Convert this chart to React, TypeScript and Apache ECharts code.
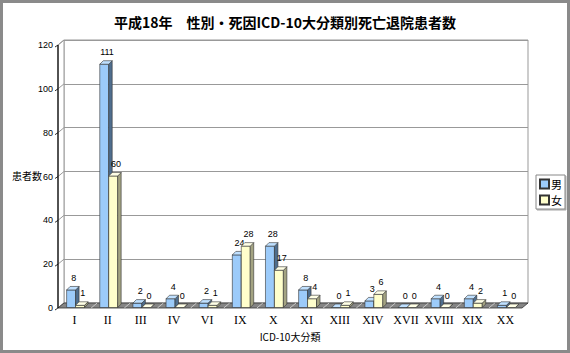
import React, { useEffect, useRef } from "react";
import * as echarts from "echarts";

const categories = ["I", "II", "III", "IV", "VI", "IX", "X", "XI", "XIII", "XIV", "XVII", "XVIII", "XIX", "XX"];
const male = [8, 111, 2, 4, 2, 24, 28, 8, 0, 3, 0, 4, 4, 1];
const female = [1, 60, 0, 0, 1, 28, 17, 4, 1, 6, 0, 0, 2, 0];
const yTicks = [0, 20, 40, 60, 80, 100, 120];

const JP = "'Noto Sans CJK JP', 'Noto Sans', sans-serif";
const NUM = "'Liberation Sans', Arial, sans-serif";

const WALL_DX = 6;
const WALL_DY = -5;

function barRender(side: number, front: string, top: string, sideC: string) {
  return (params: any, api: any) => {
    const i = api.value(0);
    const v = api.value(1);
    const pt = api.coord([i, v]);
    const pb = api.coord([i, 0]);
    const bw = api.size([1, 0])[0];
    const w = bw * 0.27;
    const ox = 1;
    const oy = -0.5;
    const dx = 3.5;
    const dy = -3.5;
    const x0 = (side < 0 ? pt[0] - w : pt[0]) + ox;
    const x1 = x0 + w;
    const ty = pt[1] + oy;
    const by = pb[1] + oy;
    const line = { stroke: "#333", lineWidth: 0.6 };
    return {
      type: "group",
      children: [
        {
          type: "polygon",
          shape: { points: [[x0, by], [x1, by], [x1, ty], [x0, ty]] },
          style: { fill: front, ...line },
        },
        {
          type: "polygon",
          shape: { points: [[x1, by], [x1 + dx, by + dy], [x1 + dx, ty + dy], [x1, ty]] },
          style: { fill: sideC, ...line },
        },
        {
          type: "polygon",
          shape: { points: [[x0, ty], [x1, ty], [x1 + dx, ty + dy], [x0 + dx, ty + dy]] },
          style: { fill: top, ...line },
        },
        {
          type: "text",
          x: (x0 + x1) / 2 + dx / 2 + 1,
          y: ty + dy - 4,
          style: {
            text: String(v),
            fill: "#000",
            font: `9px ${NUM}`,
            align: "center",
            verticalAlign: "bottom",
          },
        },
      ],
    };
  };
}

function wallRender(params: any, api: any) {
  const n = categories.length;
  const bw = api.size([1, 0])[0];
  const p0 = api.coord([0, 0]);
  const pr = api.coord([n - 1, 0]);
  const xl = p0[0] - bw / 2;
  const xr = pr[0] + bw / 2;
  const y0 = p0[1];
  const yTop = api.coord([0, yTicks[yTicks.length - 1]])[1];
  const children: any[] = [];
  children.push({
    type: "polygon",
    shape: { points: [[xl, y0], [xl + WALL_DX, y0 + WALL_DY], [xl + WALL_DX, yTop + WALL_DY], [xl, yTop]] },
    style: { fill: "#fff", stroke: "#999", lineWidth: 1 },
  });
  yTicks.forEach((t) => {
    const y = api.coord([0, t])[1];
    children.push({
      type: "line",
      shape: { x1: xl, y1: y, x2: xl + WALL_DX, y2: y + WALL_DY },
      style: { stroke: "#999", lineWidth: 1 },
    });
    children.push({
      type: "line",
      shape: { x1: xl - 3, y1: y + 2, x2: xl, y2: y },
      style: { stroke: "#333", lineWidth: 1 },
    });
  });
  children.push({
    type: "polygon",
    shape: { points: [[xl, y0], [xr, y0], [xr + WALL_DX, y0 + WALL_DY], [xl + WALL_DX, y0 + WALL_DY]] },
    style: { fill: "#858585", stroke: "#333", lineWidth: 0.8 },
  });
  for (let k = 1; k < n; k++) {
    const x = xl + k * bw;
    children.push({
      type: "line",
      shape: { x1: x, y1: y0, x2: x + WALL_DX, y2: y0 + WALL_DY },
      style: { stroke: "#c8c8c8", lineWidth: 1 },
    });
  }
  children.push({
    type: "line",
    shape: { x1: xl, y1: y0, x2: xl, y2: yTop },
    style: { stroke: "#000", lineWidth: 1.2 },
  });
  return { type: "group", children };
}

export default function App() {
  const ref = useRef<HTMLDivElement>(null);
  useEffect(() => {
    if (!ref.current) return;
    const chart = echarts.init(ref.current, undefined, { renderer: "svg" });
    chart.setOption({
      animation: false,
      backgroundColor: "#fff",
      title: {
        text: "平成18年　性別・死因ICD-10大分類別死亡退院患者数",
        left: "center",
        top: 10,
        textStyle: { fontFamily: JP, fontSize: 14, fontWeight: "bold", color: "#000" },
      },
      legend: {
        data: ["男", "女"],
        orient: "vertical",
        left: 536,
        top: 175,
        itemWidth: 9,
        itemHeight: 9,
        itemGap: 4,
        padding: [3, 3, 3, 3],
        icon: "rect",
        backgroundColor: "#fff",
        borderColor: "#888",
        borderWidth: 1,
        shadowColor: "rgba(0,0,0,0.35)",
        shadowOffsetX: 1,
        shadowOffsetY: 1,
        shadowBlur: 1,
        textStyle: { fontFamily: JP, fontSize: 11, lineHeight: 12, color: "#000", padding: [0, 0, 0, -3] },
        selectedMode: false,
      },
      grid: [
        { left: 58, right: 48, top: 45, bottom: 45 },
        {
          left: 58 + WALL_DX,
          right: 48 - WALL_DX,
          top: 45 + WALL_DY,
          bottom: 45 - WALL_DY,
          show: true,
          backgroundColor: "#fff",
          borderColor: "#999",
          borderWidth: 1,
        },
      ],
      xAxis: [
        {
          type: "category",
          gridIndex: 0,
          data: categories,
          boundaryGap: true,
          axisLine: { show: false },
          axisTick: { show: false },
          axisLabel: {
            margin: 6,
            fontFamily: "'Liberation Serif', 'DejaVu Serif', serif",
            fontSize: 12,
            color: "#000",
            interval: 0,
          },
          name: "ICD-10大分類",
          nameLocation: "middle",
          nameGap: 23,
          nameTextStyle: { fontFamily: JP, fontSize: 10, color: "#000" },
        },
        {
          type: "category",
          gridIndex: 1,
          data: categories,
          show: false,
        },
      ],
      yAxis: [
        {
          type: "value",
          gridIndex: 0,
          min: 0,
          max: 120,
          interval: 20,
          axisLine: { show: false },
          axisTick: { show: false },
          splitLine: { show: false },
          axisLabel: { margin: 5, fontFamily: NUM, fontSize: 9, color: "#000" },
        },
        {
          type: "value",
          gridIndex: 1,
          min: 0,
          max: 120,
          interval: 20,
          axisLine: { show: false },
          axisTick: { show: false },
          axisLabel: { show: false },
          splitLine: { show: true, lineStyle: { color: "#999", width: 1 } },
        },
      ],
      graphic: [
        {
          type: "text",
          left: 12,
          top: 170,
          style: { text: "患者数", font: `10px ${JP}`, fill: "#000" },
        },
        {
          type: "rect",
          shape: { x: 1.5, y: 1.5, width: 567, height: 350 },
          style: { fill: "none", stroke: "#8a8a8a", lineWidth: 3 },
          silent: true,
          z: 100,
        },
      ],
      series: [
        {
          type: "custom",
          name: "wall",
          xAxisIndex: 0,
          yAxisIndex: 0,
          silent: true,
          clip: false,
          data: [[0, 0]],
          renderItem: wallRender,
          z: 1,
        },
        {
          type: "custom",
          name: "男",
          xAxisIndex: 0,
          yAxisIndex: 0,
          clip: false,
          encode: { x: 0, y: 1 },
          itemStyle: { color: "#9CCBFA", borderColor: "#333", borderWidth: 1 },
          data: male.map((v, i) => [i, v]),
          renderItem: barRender(-1, "#9CCBFA", "#BFE0FF", "#4F6E8E"),
          z: 2,
        },
        {
          type: "custom",
          name: "女",
          xAxisIndex: 0,
          yAxisIndex: 0,
          clip: false,
          encode: { x: 0, y: 1 },
          itemStyle: { color: "#FFFFCC", borderColor: "#333", borderWidth: 1 },
          data: female.map((v, i) => [i, v]),
          renderItem: barRender(1, "#FFFFCC", "#FFFFE6", "#A3A382"),
          z: 3,
        },
      ],
    });
    return () => chart.dispose();
  }, []);
  return (
    <div style={{ position: "absolute", left: 0, top: 0, width: 570, height: 353 }}>
      <div ref={ref} style={{ width: 570, height: 353 }} />
    </div>
  );
}
